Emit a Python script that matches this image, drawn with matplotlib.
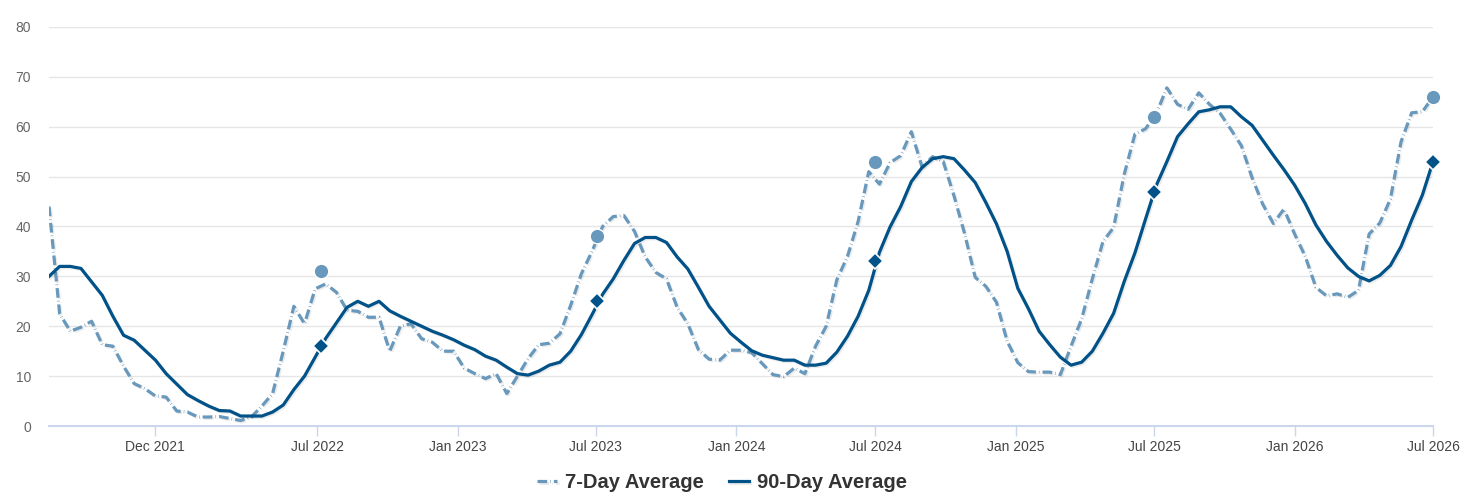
import pandas as pd
import matplotlib
matplotlib.use('Agg')
import matplotlib.pyplot as plt
import matplotlib.patheffects as pe

plt.rcParams['font.family'] = ['Liberation Sans', 'DejaVu Sans']
plt.rcParams['lines.scale_dashes'] = False

# sample dates (about every two weeks)
dates = pd.date_range('2021-07-15', '2026-07-01', periods=131)

avg_7 = [44, 22.5, 19, 19.8, 21, 16.3, 16, 12, 8.5, 7.5,
         6, 5.8, 3, 2.8, 1.8, 1.8, 1.9, 1.5, 1.1, 1.8,
         4, 6.5, 15, 24, 20.5, 27.5, 28.5, 26.8, 23.2, 23,
         21.8, 21.8, 15, 20, 20.5, 17.5, 16.8, 15, 15, 11.6,
         10.5, 9.5, 10.5, 6.5, 10, 13.5, 16.3, 16.6, 18.5, 24.2,
         30.5, 35, 40, 42, 42.2, 39, 33.9, 30.8, 29.5, 23.8,
         20.5, 15.3, 13.4, 13.2, 15.2, 15.2, 14.7, 12.5, 10.3, 9.9,
         11.6, 10.5, 16, 20, 29.3, 34, 41, 51, 48.5, 52.8,
         54.2, 59, 52, 54, 53, 46.2, 38.6, 29.8, 28, 24.8,
         17, 12.7, 10.9, 10.8, 10.8, 10.3, 16, 21.5, 29.5, 37,
         39.8, 50.5, 58.5, 59.6, 62.6, 67.8, 64.5, 63.5, 66.8, 64.5,
         62.7, 59.5, 56.2, 49.8, 44.5, 40.6, 43.5, 38.5, 34, 27.8,
         26.1, 26.5, 25.8, 27.2, 38.5, 40.7, 45.5, 57, 62.8, 63,
         66]

avg_90 = [30, 32, 32, 31.6, 28.9, 26.2, 22, 18.2, 17.2, 15.2,
          13.2, 10.5, 8.4, 6.3, 5.1, 4, 3.1, 3, 2, 2,
          2, 2.8, 4.2, 7.3, 10, 13.8, 17.6, 20.7, 23.8, 25,
          24, 25, 23.1, 22, 21, 20, 19, 18.2, 17.3, 16.2,
          15.3, 14, 13.2, 11.8, 10.5, 10.2, 11, 12.2, 12.8, 15,
          18.3, 22.3, 26.4, 29.5, 33.2, 36.6, 37.8, 37.8, 36.8, 33.9,
          31.5, 27.8, 24, 21.3, 18.6, 16.8, 15.1, 14.2, 13.7, 13.2,
          13.2, 12.2, 12.2, 12.6, 14.8, 18, 22, 27.2, 34.8, 39.9,
          44, 49, 51.8, 53.6, 54, 53.6, 51.3, 48.8, 44.8, 40.5,
          35, 27.6, 23.5, 19, 16.3, 13.8, 12.2, 12.8, 15, 18.6,
          22.6, 29, 34.7, 41.5, 48.2, 53, 58, 60.6, 63, 63.4,
          64, 64, 62, 60.3, 57.3, 54.3, 51.4, 48.3, 44.6, 40.3,
          37, 34.2, 31.7, 30, 29.1, 30.2, 32.2, 36, 41.3, 46.3,
          53]

# yearly highlighted points
mark_dates = pd.to_datetime(['2022-07-06', '2023-07-03', '2024-07-01', '2025-07-01', '2026-07-01'])
mark_7 = [31, 38, 53, 62, 66]
mark_90 = [16, 25, 33, 47, 53]

tick_dates = pd.to_datetime(['2021-12-01', '2022-07-01', '2023-01-01', '2023-07-01', '2024-01-01',
                             '2024-07-01', '2025-01-01', '2025-07-01', '2026-01-01', '2026-07-01'])
tick_labels = ['Dec 2021', 'Jul 2022', 'Jan 2023', 'Jul 2023', 'Jan 2024',
               'Jul 2024', 'Jan 2025', 'Jul 2025', 'Jan 2026', 'Jul 2026']

c7 = '#6898bb'
c90 = '#005288'

fig = plt.figure(figsize=(14.68, 5.03), dpi=100)
ax = fig.add_axes([49 / 1468, 77 / 503, 1384 / 1468, 399 / 503])

shadow = [pe.SimpleLineShadow(offset=(1, -1), shadow_color='k', alpha=0.08), pe.Normal()]

ax.plot(dates, avg_7, color=c7, linewidth=2.3, linestyle=(0, (7, 2.2, 0.4, 2.2)),
        label='7-Day Average', zorder=3, path_effects=shadow)
ax.plot(dates, avg_90, color=c90, linewidth=2.3, label='90-Day Average', zorder=4,
        path_effects=shadow)

ax.plot(mark_dates, mark_7, linestyle='none', marker='o', markersize=10.5,
        markerfacecolor=c7, markeredgecolor='white', markeredgewidth=1, zorder=5, clip_on=False)
ax.plot(mark_dates, mark_90, linestyle='none', marker='D', markersize=8.5,
        markerfacecolor=c90, markeredgecolor='white', markeredgewidth=1.2, zorder=6, clip_on=False)

ax.set_xlim(dates[0], dates[-1])
ax.set_ylim(0, 80)
ax.set_yticks(range(0, 81, 10))
ax.set_xticks(tick_dates, tick_labels)

ax.yaxis.grid(True, color='#e6e6e6', linewidth=1)
ax.set_axisbelow(True)

for s in ['top', 'right', 'left']:
    ax.spines[s].set_visible(False)
ax.spines['bottom'].set_color('#ccd6eb')
ax.spines['bottom'].set_linewidth(1.5)

ax.tick_params(axis='y', length=0, pad=13, labelsize=10, labelcolor='#666666')
ax.tick_params(axis='x', length=7, width=1, color='#ccd6eb', pad=3, labelsize=10,
               labelcolor='#444444')

leg = fig.legend(loc='center', bbox_to_anchor=(722 / 1468, 20 / 503), ncol=2, frameon=False,
                 prop={'weight': 'bold', 'size': 14.5}, handlelength=1.0, handletextpad=0.4,
                 columnspacing=1.2)
for t in leg.get_texts():
    t.set_color('#333333')

fig.savefig('out.png', dpi=100)
